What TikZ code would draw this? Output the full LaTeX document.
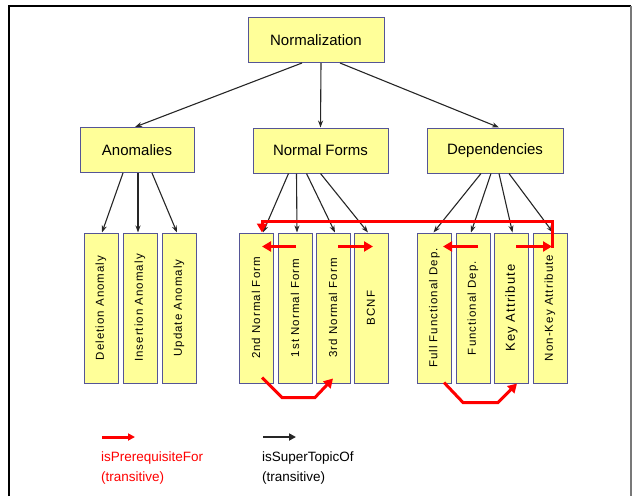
\documentclass[tikz,border=0pt]{standalone}
\usepackage{fontspec}
\setmainfont{Liberation Sans}
\newfontfamily\leaffont[LetterSpace=9]{Liberation Sans}
\usetikzlibrary{arrows.meta}
\definecolor{boxfill}{RGB}{255,255,153}
\definecolor{boxline}{RGB}{85,85,150}
\definecolor{framegray}{RGB}{120,120,120}

\begin{document}
\begin{tikzpicture}[x=1pt,y=-1pt,
  topic/.style={draw=boxline,fill=boxfill,line width=1pt,minimum height=45pt,inner sep=0pt,font=\fontsize{15}{18}\selectfont},
  leaf/.style={draw=boxline,fill=boxfill,line width=1pt,minimum width=34pt,minimum height=150pt,inner sep=0pt,font=\leaffont\fontsize{11.5}{14}\selectfont},
  super/.style={draw=black!85,line width=1.1pt,-{Stealth[length=7pt,width=5pt]}},
  prereq/.style={draw=red,line width=3pt,-{Triangle[length=9pt,width=10pt]}}]
\useasboundingbox (0,0) rectangle (632,496);
% frame
\draw[line width=2pt] (9,496) -- (9,6) -- (631,6);
\draw[framegray,line width=2pt] (631,6) -- (631,496);

% topics
\node[topic,minimum width=136pt] (norm) at (316,40) {Normalization};
\node[topic,minimum width=114pt] (anom) at (137,150) {Anomalies};
\node[topic,minimum width=135pt] (nf) at (320.5,150.5) {Normal Forms};
\node[topic,minimum width=136pt] (dep) at (495,150.5) {Dependencies};

% leaves
\node[leaf] (del) at (101,308) {\rotatebox{90}{Deletion Anomaly}};
\node[leaf] (ins) at (140,308) {\rotatebox{90}{Insertion Anomaly}};
\node[leaf] (upd) at (179,308) {\rotatebox{90}{Update Anomaly}};
\node[leaf] (nf2) at (256,308) {\rotatebox{90}{2nd Normal Form}};
\node[leaf] (nf1) at (295,308) {\rotatebox{90}{1st Normal Form}};
\node[leaf] (nf3) at (333,308) {\rotatebox{90}{3rd Normal Form}};
\node[leaf] (bcnf) at (371,308) {\rotatebox{90}{BCNF}};
\node[leaf] (full) at (434.5,308) {\rotatebox{90}{Full Functional Dep.}};
\node[leaf] (func) at (473,308) {\rotatebox{90}{Functional Dep.}};
\node[leaf,font=\leaffont\fontsize{13}{15}\selectfont] (key) at (511.5,308) {\rotatebox{90}{Key Attribute}};
\node[leaf] (nonkey) at (550,308) {\rotatebox{90}{Non-Key Attribute}};

% isSuperTopicOf
\draw[super] ([xshift=-14pt]norm.south) -- ([xshift=-2pt]anom.north);
\draw[super] ([xshift=5pt]norm.south) -- (nf.north);
\draw[super] ([xshift=24pt]norm.south) -- ([xshift=4pt]dep.north);

\draw[super] ([xshift=-14pt]anom.south) -- ([xshift=1pt]del.north);
\draw[super] ([xshift=1pt]anom.south) -- ([xshift=-2pt]ins.north);
\draw[super] ([xshift=15pt]anom.south) -- ([xshift=-2pt]upd.north);

\draw[super] ([xshift=-32pt]nf.south) -- ([xshift=7pt]nf2.north);
\draw[super] ([xshift=-24pt]nf.south) -- ([xshift=2pt]nf1.north);
\draw[super] ([xshift=-14pt]nf.south) -- ([xshift=2pt]nf3.north);
\draw[super] ([xshift=0pt]nf.south) -- ([xshift=-3pt]bcnf.north);

\draw[super] ([xshift=-14pt]dep.south) -- ([xshift=-1pt]full.north);
\draw[super] ([xshift=-4pt]dep.south) -- ([xshift=-2pt]func.north);
\draw[super] ([xshift=4pt]dep.south) -- ([xshift=1pt]key.north);
\draw[super] ([xshift=14pt]dep.south) -- ([xshift=3pt]nonkey.north);

% isPrerequisiteFor
\draw[prereq] ([xshift=2pt,yshift=-15pt]nonkey.north) |- ([xshift=6pt,yshift=11pt]nf2.north) -- ([xshift=6pt]nf2.north);
\draw[prereq] ([xshift=1pt,yshift=-14pt]nf1.north) -- ([xshift=6pt,yshift=-14pt]nf2.north);
\draw[prereq] ([xshift=5pt,yshift=-14pt]nf3.north) -- ([xshift=2pt,yshift=-14pt]bcnf.north);
\draw[prereq] ([xshift=6pt,yshift=6pt]nf2.south) -- ++(20,20) -- ++(33,0) -- ([yshift=5pt]nf3.south);
\draw[prereq] ([xshift=5pt,yshift=-14pt]func.north) -- ([xshift=8.5pt,yshift=-14pt]full.north);
\draw[prereq] ([xshift=4.5pt,yshift=-14pt]key.north) -- ([xshift=2pt,yshift=-14pt]nonkey.north);
\draw[prereq] ([xshift=9.5pt,yshift=1pt]full.south) -- ++(19,20) -- ++(35,0) -- ([xshift=5.5pt]key.south);

% legend
\coordinate (redA) at (102,437);
\coordinate (redB) at (135,437);
\coordinate (blkA) at (263,437);
\coordinate (blkB) at (296,437);
\draw[prereq,-{Triangle[length=7pt,width=7pt]}] (redA) -- (redB);
\draw[super,line width=2pt,-{Triangle[length=7pt,width=7pt]}] (blkA) -- (blkB);
\node[anchor=north west,inner sep=0pt,align=left,text=red,font=\fontsize{13.5}{20}\selectfont] (redtxt) at (101,452) {isPrerequisiteFor\\(transitive)};
\node[anchor=north west,inner sep=0pt,align=left,font=\fontsize{13.5}{20}\selectfont] (blktxt) at (262,452) {isSuperTopicOf\\(transitive)};
\end{tikzpicture}
\end{document}
